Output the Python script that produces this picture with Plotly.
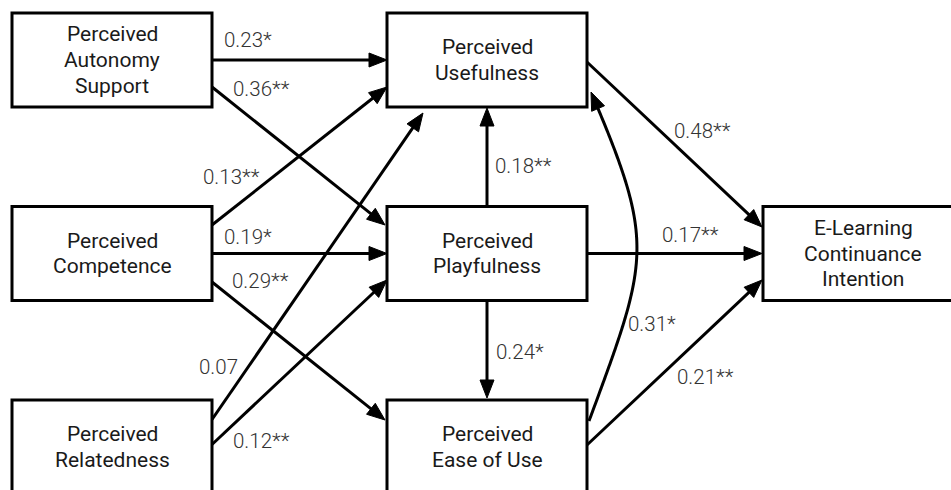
import numpy as np
import plotly.graph_objects as go

# ---------------- data ----------------
node_ids = ["aut", "comp", "rel", "use", "play", "ease", "int"]
node_labels = ["Perceived<br>Autonomy<br>Support", "Perceived<br>Competence",
               "Perceived<br>Relatedness", "Perceived<br>Usefulness",
               "Perceived<br>Playfulness", "Perceived<br>Ease of Use",
               "E-Learning<br>Continuance<br>Intention"]
node_col = [0, 0, 0, 1, 1, 1, 2]
node_row = [0, 1, 2, 0, 1, 2, 1]

edge_src = ["aut", "aut", "comp", "comp", "comp", "rel", "rel", "play", "play", "ease", "use", "play", "ease"]
edge_dst = ["use", "play", "use", "play", "ease", "use", "play", "use", "ease", "use", "int", "int", "int"]
edge_coef = ["0.23*", "0.36**", "0.13**", "0.19*", "0.29**", "0.07", "0.12**",
             "0.18**", "0.24*", "0.31*", "0.48**", "0.17**", "0.21**"]

# ---------------- layout constants ----------------
W, H = 951, 490
COL_X = [112, 487, 863]
ROW_Y = [60, 253.5, 447]
BOX_W, BOX_H = 200, 94
LINE_SP = 25.8
# attachment offsets (dx, dy) relative to node centre, for start and tip
START_OFF = [(100, 0), (100, 27), (100, -28.5), (100, 0), (100, 28.5), (100, -27.5), (100, -2.5),
             (0, -46.5), (0, 46.5), (102, -26), (100, 2), (100, 0), (100, -2)]
TIP_OFF = [(-100, 0), (-102, -28.5), (-100, 27), (-100, 0), (-102, -27), (-64, 53), (-100, 26.5),
           (0, 48), (0, -49), (104, 32), (-101, -26.5), (-101, 0), (-101, 26.5)]
LABEL_XY = [(248, 40), (261, 89), (231, 177), (248, 237), (260, 281), (218, 367), (261, 441),
            (523, 166), (520, 352), (652, 324), (702, 131), (690, 235), (705, 377)]
CURVED = [False] * 9 + [True] + [False] * 3
HEAD_L, HEAD_HW = 18, 7
LW = 3

pos = {n: (COL_X[c], ROW_Y[r]) for n, c, r in zip(node_ids, node_col, node_row)}

fig = go.Figure()
shapes = []
annotations = []


def head(tip, d):
    d = np.asarray(d, float)
    d = d / np.linalg.norm(d)
    n = np.array([-d[1], d[0]])
    base = np.asarray(tip) - HEAD_L * d
    p1 = base + HEAD_HW * n
    p2 = base - HEAD_HW * n
    path = f"M {tip[0]},{tip[1]} L {p1[0]},{p1[1]} L {p2[0]},{p2[1]} Z"
    shapes.append(dict(type="path", path=path, xref="x", yref="y",
                       fillcolor="black", line=dict(color="black", width=1)))
    return np.asarray(tip) - (HEAD_L - 3) * d


for i, (s, t) in enumerate(zip(edge_src, edge_dst)):
    sx, sy = pos[s][0] + START_OFF[i][0], pos[s][1] + START_OFF[i][1]
    tx, ty = pos[t][0] + TIP_OFF[i][0], pos[t][1] + TIP_OFF[i][1]
    if not CURVED[i]:
        d = (tx - sx, ty - sy)
        end = head((tx, ty), d)
        shapes.append(dict(type="line", x0=sx, y0=sy, x1=end[0], y1=end[1], xref="x", yref="y",
                           line=dict(color="black", width=LW)))
    else:
        P0 = np.array([sx, sy])
        P3 = np.array([tx, ty])
        P1 = P0 + np.array([60, -162])
        P2 = P3 + np.array([65, 152])
        tt = np.linspace(0, 1, 200)[:, None]
        pts = ((1 - tt) ** 3) * P0 + 3 * ((1 - tt) ** 2) * tt * P1 + 3 * (1 - tt) * tt ** 2 * P2 + tt ** 3 * P3
        d = P3 - P2
        head((tx, ty), d)
        dist = np.linalg.norm(pts - P3, axis=1)
        keep = pts[dist > HEAD_L - 3]
        path = "M " + " L ".join(f"{p[0]:.2f},{p[1]:.2f}" for p in keep)
        shapes.append(dict(type="path", path=path, xref="x", yref="y",
                           line=dict(color="black", width=LW)))
    annotations.append(dict(x=LABEL_XY[i][0], y=LABEL_XY[i][1], xref="x", yref="y",
                            text=edge_coef[i], showarrow=False,
                            font=dict(family="Roboto", size=20.5, color="#333333", weight=300)))

for n, lab in zip(node_ids, node_labels):
    cx, cy = pos[n]
    shapes.append(dict(type="rect", x0=cx - BOX_W / 2, x1=cx + BOX_W / 2,
                       y0=cy - BOX_H / 2, y1=cy + BOX_H / 2, xref="x", yref="y",
                       fillcolor="white", line=dict(color="black", width=LW)))
    lines = lab.split("<br>")
    for k, ln in enumerate(lines):
        yy = cy + (k - (len(lines) - 1) / 2) * LINE_SP
        annotations.append(dict(x=cx, y=yy, xref="x", yref="y", text=ln, showarrow=False,
                                font=dict(family="Roboto", size=21, color="#1a1a1a")))

fig.update_layout(
    width=W, height=H, margin=dict(l=0, r=0, t=0, b=0),
    paper_bgcolor="white", plot_bgcolor="white",
    xaxis=dict(range=[0, W], visible=False, fixedrange=True),
    yaxis=dict(range=[H, 0], visible=False, fixedrange=True),
    shapes=shapes, annotations=annotations, showlegend=False,
)
fig.write_html("out.html", config={"displayModeBar": False, "staticPlot": True},
               post_script="document.body.style.margin='0';document.body.style.overflow='hidden';")
